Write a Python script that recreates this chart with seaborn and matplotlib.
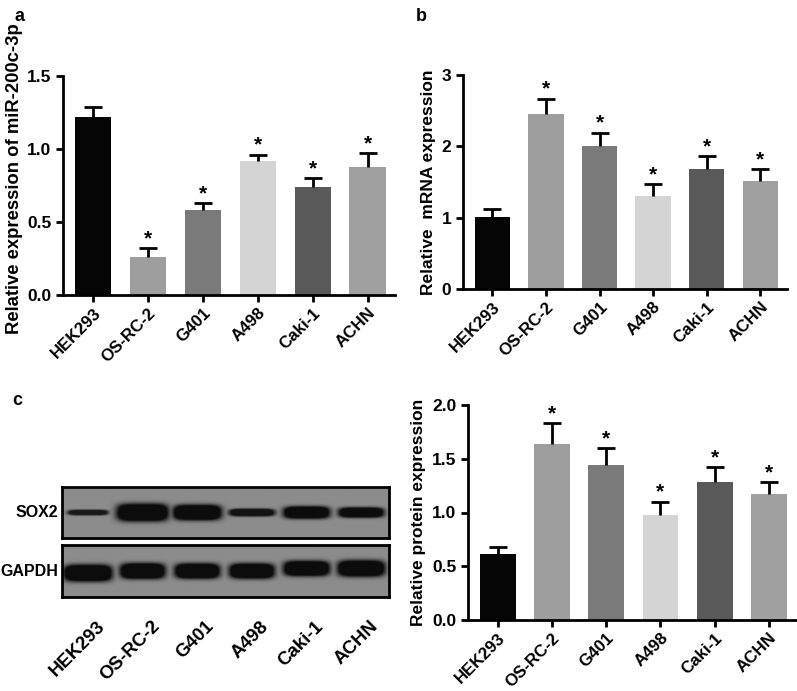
import numpy as np
import pandas as pd
import seaborn as sns
import matplotlib.pyplot as plt

# ---- data ----
cells = ["HEK293", "OS-RC-2", "G401", "A498", "Caki-1", "ACHN"]
bar_colors = ["#050505", "#9e9e9e", "#7a7a7a", "#d4d4d4", "#595959", "#a0a0a0"]

mir_mean = [1.22, 0.26, 0.58, 0.92, 0.74, 0.88]
mir_err = [0.07, 0.06, 0.05, 0.04, 0.06, 0.09]

mrna_mean = [1.01, 2.45, 2.01, 1.30, 1.68, 1.52]
mrna_err = [0.11, 0.22, 0.18, 0.17, 0.18, 0.16]

prot_mean = [0.61, 1.64, 1.44, 0.975, 1.28, 1.17]
prot_err = [0.07, 0.19, 0.16, 0.125, 0.14, 0.11]

signif = [False, True, True, True, True, True]

# western blot band estimates (width in lanes, thickness as fraction of strip, darkness)
sox2_width = [0.70, 0.92, 0.86, 0.80, 0.82, 0.80]
sox2_thick = [0.10, 0.33, 0.29, 0.14, 0.23, 0.19]
sox2_dark = [0.9, 1.0, 1.0, 0.95, 1.0, 1.0]
gapdh_width = [0.86, 0.80, 0.80, 0.80, 0.82, 0.84]
gapdh_thick = [0.31, 0.29, 0.28, 0.28, 0.28, 0.30]
gapdh_dark = [1.0, 1.0, 1.0, 1.0, 1.0, 1.0]
gapdh_shift = [-0.04, 0.0, 0.0, 0.0, 0.05, 0.05]

W, H = 797, 691

sns.set_style("ticks")
plt.rcParams["font.family"] = ["Liberation Sans", "DejaVu Sans"]
plt.rcParams["font.weight"] = "bold"
plt.rcParams["axes.labelweight"] = "bold"
for key in ["text.color", "axes.labelcolor", "xtick.color", "ytick.color", "axes.edgecolor"]:
    plt.rcParams[key] = "black"

fig = plt.figure(figsize=(W / 100, H / 100), dpi=100)


def px_axes(l, t, r, b):
    return fig.add_axes([l / W, 1 - b / H, (r - l) / W, (b - t) / H])


def bar_panel(ax, means, errs, ylabel, ylim, yticks, fmt, label_size=12.5):
    df = pd.DataFrame({"cell": cells, "value": means})
    sns.barplot(data=df, x="cell", y="value", hue="cell", palette=bar_colors,
                saturation=1, width=0.66, legend=False, ax=ax, linewidth=0)
    x = np.arange(len(cells))
    _, caps, _ = ax.errorbar(x, means, yerr=[np.zeros(len(errs)), errs], fmt="none",
                             ecolor="black", elinewidth=2, capsize=6.5, capthick=2)
    caps[0].set_visible(False)  # only the upper cap, like the original
    for xi, m, e, s in zip(x, means, errs, signif):
        if s:
            ax.annotate("*", (xi, m + e), xytext=(0, 0), textcoords="offset points",
                        ha="center", va="bottom", fontsize=15, fontweight="bold")
    ax.set_xlim(-0.55, 5.5)
    ax.set_ylim(*ylim)
    ax.set_yticks(yticks)
    ax.set_yticklabels([fmt.format(v) for v in yticks], fontweight="bold")
    ax.set_xlabel("")
    ax.set_ylabel(ylabel, fontsize=label_size, fontweight="bold")
    ax.set_xticks(x)
    ax.set_xticklabels(cells, rotation=45, ha="right", rotation_mode="anchor",
                       fontsize=12.2, fontweight="bold")
    sns.despine(ax=ax)
    for sp in ["left", "bottom"]:
        ax.spines[sp].set_linewidth(2)
    ax.tick_params(axis="both", width=2, length=5, labelsize=12.5, colors="black")
    ax.tick_params(axis="x", labelsize=12.2, pad=2.5)


# panel a
ax_a = px_axes(63, 76, 395, 295)
bar_panel(ax_a, mir_mean, mir_err, "Relative expression of miR-200c-3p",
          (0, 1.5), [0.0, 0.5, 1.0, 1.5], "{:.1f}", label_size=13.3)
ax_a.yaxis.set_label_coords(-0.12, 0.53)

# panel b
ax_b = px_axes(463, 75, 787, 289)
bar_panel(ax_b, mrna_mean, mrna_err, "Relative  mRNA expression",
          (0, 3), [0, 1, 2, 3], "{:.0f}")

# panel c bars
ax_c = px_axes(468, 405, 796, 620)
bar_panel(ax_c, prot_mean, prot_err, "Relative protein expression",
          (0, 2.0), [0.0, 0.5, 1.0, 1.5, 2.0], "{:.1f}")


def blot_strip(ax, widths, thicks, darks, shifts=None):
    xs = np.linspace(-0.47, 5.52, 500)
    ys = np.linspace(0, 1, 80)
    X, Y = np.meshgrid(xs, ys)
    dens = np.zeros_like(X)
    if shifts is None:
        shifts = [0] * len(widths)
    for i, (w, t, d, s) in enumerate(zip(widths, thicks, darks, shifts)):
        fx = np.exp(-np.abs((X - i) / (w / 2)) ** 5)
        fy = np.exp(-np.abs((Y - 0.5 - s) / (t / 2)) ** 3)
        dens = np.maximum(dens, d * np.clip(2.2 * fx * fy, 0, 1))
    img = 0.55 - 0.5 * dens
    ax.imshow(img, cmap="gray", vmin=0, vmax=1, aspect="auto",
              extent=(-0.47, 5.52, 0, 1), origin="lower", interpolation="bilinear")
    ax.set_xlim(-0.47, 5.52)
    ax.set_ylim(0, 1)
    ax.set_yticks([])
    for sp in ax.spines.values():
        sp.set_visible(True)
        sp.set_linewidth(2)
        sp.set_color("black")


ax_s = px_axes(62, 487, 389, 538)
blot_strip(ax_s, sox2_width, sox2_thick, sox2_dark)
ax_s.set_xticks([])
ax_s.text(-0.012, 0.5, "SOX2", transform=ax_s.transAxes, ha="right", va="center",
          fontsize=11.5, fontweight="bold")

ax_g = px_axes(62, 545, 389, 597)
blot_strip(ax_g, gapdh_width, gapdh_thick, gapdh_dark, gapdh_shift)
ax_g.text(-0.01, 0.5, "GAPDH", transform=ax_g.transAxes, ha="right", va="center",
          fontsize=11.5, fontweight="bold")
ax_g.set_xticks(np.arange(len(cells)) + 0.16)
ax_g.set_xticklabels(cells, rotation=45, ha="right", rotation_mode="anchor",
                     fontsize=13.5, fontweight="bold")
ax_g.tick_params(axis="x", length=0, pad=15)

# panel letters
fig.text(15 / W, 1 - 21 / H, "a", fontsize=13, fontweight="bold")
fig.text(416 / W, 1 - 21 / H, "b", fontsize=13, fontweight="bold")
fig.text(12 / W, 1 - 405 / H, "c", fontsize=13, fontweight="bold")

fig.savefig("out.png", dpi=100)
